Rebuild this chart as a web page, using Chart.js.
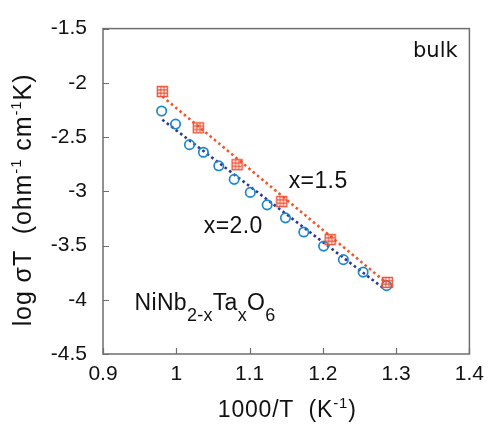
<!DOCTYPE html>
<html>
<head>
<meta charset="utf-8">
<script src="https://cdn.jsdelivr.net/npm/chart.js@4/dist/chart.umd.min.js"></script>
<style>
  html, body { margin: 0; padding: 0; background: #fff; }
  canvas { display: block; }
</style>
</head>
<body>
<canvas id="arrhenius" width="492" height="424"></canvas>
<script>
// NiNb(2-x)Ta(x)O6 bulk conductivity, x = 1.5 and x = 2.0
const invT_15 = [0.981, 1.030, 1.083, 1.144, 1.210, 1.288];
const logSigmaT_15 = [-2.08, -2.415, -2.755, -3.095, -3.445, -3.84];

const invT_20 = [0.980, 0.999, 1.018, 1.037, 1.058, 1.079, 1.101, 1.124, 1.149, 1.174, 1.201, 1.228, 1.255, 1.287];
const logSigmaT_20 = [-2.26, -2.38, -2.57, -2.64, -2.765, -2.89, -3.01, -3.125, -3.245, -3.375, -3.505, -3.63, -3.745, -3.87];

// linear fits (end points)
const fitX_15 = [0.981, 1.287];
const fitY_15 = [-2.125, -3.845];
const fitX_20 = [0.981, 1.283];
const fitY_20 = [-2.34, -3.895];

// axis ticks
const xTicks = [0.9, 1.0, 1.1, 1.2, 1.3, 1.4];
const xTickLabels = ['0.9', '1', '1.1', '1.2', '1.3', '1.4'];
const yTicks = [-1.5, -2, -2.5, -3, -3.5, -4, -4.5];
const yTickLabels = ['-1.5', '-2', '-2.5', '-3', '-3.5', '-4', '-4.5'];

const RED = '#ee4f33';
const RED_DOT = '#f2562b';
const BLUE = '#1a87cf';
const BLUE_DOT = '#2b3992';
const FRAME = '#6e6e6e';
const SANS = '"Liberation Sans", Arial, sans-serif';

const toXY = (xs, ys) => xs.map((x, i) => ({ x: x, y: ys[i] }));

// square marker with inner grid
function gridSquare() {
    const c = document.createElement('canvas');
    c.width = 13;
    c.height = 13;
    const g = c.getContext('2d');
    g.strokeStyle = RED;
    g.lineWidth = 1.4;
    g.strokeRect(1.5, 1.5, 10, 10);
    g.lineWidth = 1.1;
    g.beginPath();
    g.moveTo(4.9, 1.5); g.lineTo(4.9, 11.5);
    g.moveTo(8.1, 1.5); g.lineTo(8.1, 11.5);
    g.moveTo(1.5, 4.9); g.lineTo(11.5, 4.9);
    g.moveTo(1.5, 8.1); g.lineTo(11.5, 8.1);
    g.stroke();
    return c;
}

// draws runs of text; each run: [text, size, dy]
function richText(ctx, runs, x, y, align, spacing) {
    ctx.letterSpacing = (spacing || 0) + 'px';
    let total = 0;
    runs.forEach(r => {
        ctx.font = r[1] + 'px ' + SANS;
        total += ctx.measureText(r[0]).width;
    });
    let cx = align === 'center' ? x - total / 2 : x;
    ctx.textAlign = 'left';
    ctx.textBaseline = 'alphabetic';
    runs.forEach(r => {
        ctx.font = r[1] + 'px ' + SANS;
        ctx.fillText(r[0], cx, y + r[2]);
        cx += ctx.measureText(r[0]).width;
    });
    ctx.letterSpacing = '0px';
}

const framePlugin = {
    id: 'frameAndLabels',
    afterDatasetsDraw(chart) {
        const { ctx, chartArea: a, scales } = chart;
        ctx.save();

        // frame
        ctx.strokeStyle = FRAME;
        ctx.lineWidth = 1.5;
        ctx.strokeRect(a.left, a.top, a.right - a.left, a.bottom - a.top);

        // inward ticks
        ctx.beginPath();
        yTicks.forEach(v => {
            const py = Math.round(scales.y.getPixelForValue(v)) + 0.5;
            ctx.moveTo(a.left, py);
            ctx.lineTo(a.left + 6, py);
        });
        xTicks.forEach(v => {
            const px = Math.round(scales.x.getPixelForValue(v)) + 0.5;
            ctx.moveTo(px, a.bottom);
            ctx.lineTo(px, a.bottom - 6);
        });
        ctx.lineWidth = 1.2;
        ctx.stroke();

        ctx.fillStyle = '#111';

        // axis titles
        richText(ctx, [['1000/T  (K', 23, 0], ['-1', 15, -9], [')', 23, 0]],
            (a.left + a.right) / 2 + 1, 417, 'center', 0.8);

        ctx.save();
        ctx.translate(31, 200);
        ctx.rotate(-Math.PI / 2);
        richText(ctx, [['log \u03c3T  (ohm', 25, 0], ['-1', 15, -10], [' cm', 25, 0],
            ['-1', 15, -10], ['K)', 25, 0]], 0, 0, 'center', 0.9);
        ctx.restore();

        // annotations placed in data coordinates
        const X = v => scales.x.getPixelForValue(v);
        const Y = v => scales.y.getPixelForValue(v);

        ctx.font = '21px "DejaVu Sans", sans-serif';
        ctx.textAlign = 'right';
        ctx.textBaseline = 'alphabetic';
        ctx.fillText('bulk', X(1.384), Y(-1.764));

        richText(ctx, [['x=1.5', 23, 0]], X(1.1534), Y(-2.973), 'left', 0.4);
        richText(ctx, [['x=2.0', 23, 0]], X(1.0375), Y(-3.382), 'left', 0.4);
        richText(ctx, [['NiNb', 23, 0], ['2-x', 18, 11], ['Ta', 23, 0], ['x', 18, 11],
            ['O', 23, 0], ['6', 18, 11]], X(0.9431), Y(-4.091), 'left', 0.3);

        ctx.restore();
    }
};

Chart.defaults.font.family = SANS;
Chart.defaults.color = '#111';

const chart = new Chart(document.getElementById('arrhenius'), {
    type: 'scatter',
    data: {
        datasets: [
            {
                label: 'x=1.5',
                data: toXY(invT_15, logSigmaT_15),
                pointStyle: gridSquare(),
                pointRadius: 5,
                order: 0
            },
            {
                label: 'x=2.0',
                data: toXY(invT_20, logSigmaT_20),
                pointStyle: 'circle',
                pointRadius: 4.7,
                borderColor: BLUE,
                backgroundColor: 'rgba(255,255,255,0)',
                borderWidth: 1.7,
                order: 0
            },
            {
                label: 'fit x=1.5',
                type: 'line',
                data: toXY(fitX_15, fitY_15),
                borderColor: RED_DOT,
                borderWidth: 2.6,
                borderDash: [2.6, 3],
                pointRadius: 0,
                fill: false,
                order: 1
            },
            {
                label: 'fit x=2.0',
                type: 'line',
                data: toXY(fitX_20, fitY_20),
                borderColor: BLUE_DOT,
                borderWidth: 2.6,
                borderDash: [2.6, 3],
                pointRadius: 0,
                fill: false,
                order: 1
            }
        ]
    },
    options: {
        responsive: false,
        animation: false,
        layout: { padding: { left: 0, top: 24, right: 18, bottom: 0 } },
        plugins: {
            legend: { display: false },
            tooltip: { enabled: false },
            title: { display: false }
        },
        scales: {
            x: {
                type: 'linear',
                min: 0.9,
                max: 1.4,
                afterBuildTicks: s => { s.ticks = xTicks.map(v => ({ value: v })); },
                afterFit: s => { s.height = 70; },
                grid: { display: false, drawTicks: false },
                border: { display: false },
                ticks: {
                    padding: 8,
                    maxRotation: 0,
                    font: { size: 21 },
                    color: '#111',
                    callback: (v, i) => xTickLabels[i]
                }
            },
            y: {
                type: 'linear',
                min: -4.5,
                max: -1.5,
                afterBuildTicks: s => { s.ticks = yTicks.slice().reverse().map(v => ({ value: v })); },
                afterFit: s => { s.width = 103; },
                grid: { display: false, drawTicks: false },
                border: { display: false },
                ticks: {
                    padding: 16,
                    font: { size: 21 },
                    color: '#111',
                    callback: (v) => yTickLabels[yTicks.indexOf(v)]
                }
            }
        }
    },
    plugins: [framePlugin]
});
</script>
</body>
</html>
